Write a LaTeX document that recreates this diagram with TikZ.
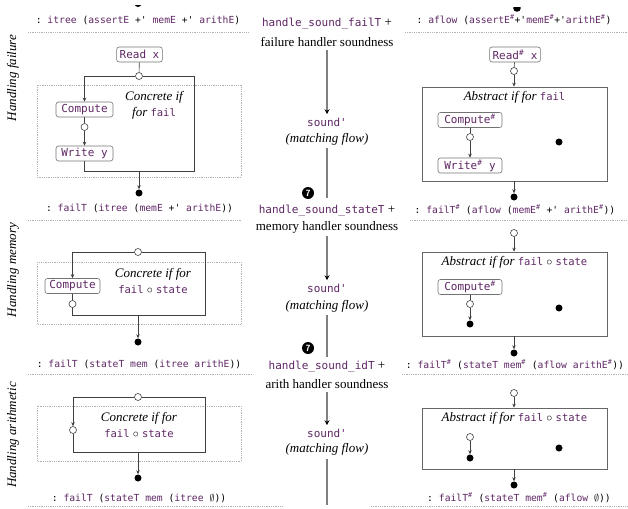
\documentclass[tikz,border=0pt]{standalone}
\usepackage{fontspec}
\setmainfont{Liberation Serif}
\setmonofont{DejaVu Sans Mono}
\usetikzlibrary{arrows.meta,positioning,calc}
\definecolor{codepurple}{RGB}{94,38,100}
\newcommand{\kw}[1]{\textcolor{codepurple}{#1}}
\newcommand{\sh}{\textsuperscript{\#}}
\newcommand{\serifsize}{\fontsize{13}{16}\selectfont}
\newcommand{\tysize}{\fontsize{9.7}{11}\ttfamily}
\newcommand{\cdsize}{\fontsize{11}{13}\ttfamily}
\newcommand{\incd}[1]{{\fontsize{10.5}{12}\ttfamily\upshape\color{codepurple}#1}}
\tikzset{
  codebox/.style={draw=black!55, rounded corners=2.5pt, line width=0.6pt, inner xsep=3pt, inner ysep=0pt, minimum height=15pt, font=\cdsize, text=codepurple},
  opendot/.style={circle, draw=black!75, fill=white, line width=0.6pt, inner sep=0pt, minimum size=7pt},
  fulldot/.style={circle, fill=black, inner sep=0pt, minimum size=7pt},
  flow/.style={draw=black!75, line width=0.6pt},
  region/.style={draw=black!30, dash pattern=on 0.6pt off 1.2pt, line width=0.6pt},
  absbox/.style={draw=black!60, line width=0.7pt},
  typeline/.style={font=\tysize},
  typerule/.style={draw=black!30, dash pattern=on 0.6pt off 1.2pt, line width=0.6pt},
  proof/.style={draw=black!50, line width=1.8pt},
  sketch/.style={font=\serifsize\itshape, align=center},
  rowlabel/.style={rotate=90, font=\serifsize\itshape},
  stepnum/.style={circle, fill=black, text=white, inner sep=0pt, minimum size=12pt, font=\sffamily\bfseries\fontsize{9}{9}\selectfont},
}

\begin{document}
\begin{tikzpicture}[x=1pt, y=-1pt, >={Stealth[length=4pt,width=3.5pt]}, font=\serifsize]
    \useasboundingbox (0,0) rectangle (628,508);

    % resti dei pallini sopra
    \begin{scope}
        \clip (120,5.5) rectangle (540,20);
        \fill (138,3.5) circle (3.5);
    \end{scope}
    \begin{scope}
        \clip (500,7.5) rectangle (540,20);
        \fill (517,8) circle (3.8);
    \end{scope}

    % etichette delle righe
    \node[rowlabel] (lab1) at (13,78) {Handling failure};
    \node[rowlabel] (lab2) at (13,270) {Handling memory};
    \node[rowlabel] (lab3) at (13,435) {Handling arithmetic};

    % ---------------- riga 1: fallimento ----------------
    \node[typeline] (t1l) at (138,20) {: \kw{itree} (\kw{assertE} +' \kw{memE} +' \kw{arithE})};
    \draw[typerule] (28,32) -- (248,32);
    \node[typeline] (t1r) at (514,20) {: \kw{aflow} (\kw{assertE\sh}+'\kw{memE\sh}+'\kw{arithE\sh})};
    \draw[typerule] (405,32) -- (628,32);

    % if concreto
    \draw[region] (37,85) rectangle (241,177);
    \node[codebox] (read1) at (139.5,54.5) {Read x};
    \node[opendot] (s1) at (139,76) {};
    \node[codebox, minimum width=57pt] (c1) at (84.5,109.5) {Compute};
    \node[opendot] (d1) at (84.5,127) {};
    \node[codebox, minimum width=57pt] (w1) at (84.5,153.5) {Write y};
    \coordinate (r1) at (194,171);
    \coordinate (b1) at (139,171);
    \node[fulldot] (o1) at (139,193) {};
    \node[sketch] (k1) at (154,105) {Concrete if\\for \incd{fail}};
    \draw[flow] (read1) -- (s1);
    \draw[flow,->] (s1.west) -| (c1.north);
    \draw[flow] (c1) -- (d1);
    \draw[flow,->] (d1) -- (w1);
    \draw[flow] (w1.south) |- (r1) |- (s1.east);
    \draw[flow,->] (b1) -- (o1);

    % passo di prova
    \node (h1) at (327,24) {\kw{\cdsize handle\_sound\_failT} +};
    \node (f1) at (327,42) {failure handler soundness};
    \node (q1) at (327,122) {\kw{\cdsize sound'}};
    \node[font=\serifsize\itshape] (m1) at (327,139) {(matching flow)};
    \coordinate (e1) at (327,198);
    \draw[proof,-{Stealth[length=5pt,width=5pt,color=black]}] (f1.south) -- (q1.north);
    \draw[proof] (m1.south) -- (e1);
    \node[stepnum] (n1) at (308,193) {7};

    % if astratto
    \node[codebox] (read1a) at (515,54.5) {Read\sh{} x};
    \node[opendot] (s1a) at (514,71) {};
    \node[absbox, minimum width=185pt, minimum height=94pt] (abs1) at (514.5,134) {};
    \node[font=\serifsize\itshape, below=1pt of abs1.north] (k1a) {Abstract if for \incd{fail}};
    \node[codebox, minimum width=64pt] (c1a) at (470,120) {Compute\sh};
    \node[opendot] (d1a) at (470,137) {};
    \node[codebox, minimum width=64pt] (w1a) at (470,165.5) {Write\sh{} y};
    \node[fulldot] (x1a) at (559,142) {};
    \node[fulldot] (o1a) at (514,197) {};
    \draw[flow] (read1a) -- (s1a);
    \draw[flow,->] (s1a) -- (s1a |- abs1.north);
    \draw[flow] (c1a) -- (d1a);
    \draw[flow,->] (d1a) -- (w1a);
    \draw[flow,->] (o1a |- abs1.south) -- (o1a);

    % ---------------- riga 2: memoria ----------------
    \node[typeline] (t2l) at (139.5,208) {: \kw{failT} (\kw{itree} (\kw{memE} +' \kw{arithE}))};
    \draw[typerule] (28,220) -- (242,220);
    \node[typeline] (t2r) at (515,210) {: \kw{failT\sh} (\kw{aflow} (\kw{memE\sh} +' \kw{arithE\sh}))};
    \draw[typerule] (410,220) -- (628,220);

    % if concreto
    \draw[region] (37,262) rectangle (241,324);
    \node[opendot] (s2) at (138,252) {};
    \node[codebox, minimum width=55pt] (c2) at (72.5,286) {Compute};
    \node[opendot] (d2) at (72.5,304) {};
    \coordinate (r2) at (205,315);
    \coordinate (b2) at (138,315);
    \node[fulldot] (o2) at (138,342) {};
    \node[sketch] (k2) at (153,281) {Concrete if for\\\incd{fail} $\circ$ \incd{state}};
    \draw[flow,->] (s2.west) -| (c2.north);
    \draw[flow] (c2) -- (d2);
    \draw[flow] (d2.south) |- (r2) |- (s2.east);
    \draw[flow,->] (b2) -- (o2);

    % passo di prova
    \node (h2) at (327,211) {\kw{\cdsize handle\_sound\_stateT} +};
    \node (f2) at (327,227) {memory handler soundness};
    \node (q2) at (327,288) {\kw{\cdsize sound'}};
    \node[font=\serifsize\itshape] (m2) at (327,306) {(matching flow)};
    \coordinate (e2) at (327,357);
    \draw[proof,-{Stealth[length=5pt,width=5pt,color=black]}] (f2.south) -- (q2.north);
    \draw[proof] (m2.south) -- (e2);
    \node[stepnum] (n2) at (308,348) {7};

    % if astratto
    \node[opendot] (s2a) at (514,233) {};
    \node[absbox, minimum width=185pt, minimum height=84pt] (abs2) at (514.5,294) {};
    \node[font=\serifsize\itshape, below=1pt of abs2.north] (k2a) {Abstract if for \incd{fail} $\circ$ \incd{state}};
    \node[codebox, minimum width=64pt] (c2a) at (470,287) {Compute\sh};
    \node[opendot] (d2a) at (470,304) {};
    \node[fulldot] (y2a) at (470,324) {};
    \node[fulldot] (x2a) at (559,308) {};
    \node[fulldot] (o2a) at (514,353) {};
    \draw[flow,->] (s2a) -- (s2a |- abs2.north);
    \draw[flow] (c2a) -- (d2a);
    \draw[flow,->] (d2a) -- (y2a);
    \draw[flow,->] (o2a |- abs2.south) -- (o2a);

    % ---------------- riga 3: aritmetica ----------------
    \node[typeline] (t3l) at (139,364) {: \kw{failT} (\kw{stateT} \kw{mem} (\kw{itree} \kw{arithE}))};
    \draw[typerule] (28,374) -- (253,374);
    \node[typeline] (t3r) at (515,365) {: \kw{failT\sh} (\kw{stateT} \kw{mem\sh} (\kw{aflow} \kw{arithE\sh}))};
    \draw[typerule] (402,374) -- (628,374);

    % if concreto
    \draw[region] (37,406) rectangle (241,461);
    \node[opendot] (s3) at (138,397) {};
    \node[opendot] (d3) at (73,430) {};
    \coordinate (r3) at (205,452);
    \coordinate (b3) at (138,452);
    \node[fulldot] (o3) at (138,478) {};
    \node[sketch] (k3) at (139,425) {Concrete if for\\\incd{fail} $\circ$ \incd{state}};
    \draw[flow,->] (s3.west) -| (d3.north);
    \draw[flow] (d3.south) |- (r3) |- (s3.east);
    \draw[flow,->] (b3) -- (o3);
    \node[typeline] (t3lb) at (139,498) {: \kw{failT} (\kw{stateT} \kw{mem} (\kw{itree} $\emptyset$))};
    \draw[typerule] (28,506) -- (282,506);

    % passo di prova
    \node (h3) at (327,367) {\kw{\cdsize handle\_sound\_idT} +};
    \node (f3) at (327,384) {arith handler soundness};
    \node (q3) at (327,433) {\kw{\cdsize sound'}};
    \node[font=\serifsize\itshape] (m3) at (327,449) {(matching flow)};
    \coordinate (e3) at (327,505);
    \draw[proof,-{Stealth[length=5pt,width=5pt,color=black]}] (f3.south) -- (q3.north);
    \draw[proof] (m3.south) -- (e3);

    % if astratto
    \node[opendot] (s3a) at (514,393) {};
    \node[absbox, minimum width=185pt, minimum height=61pt] (abs3) at (514.5,438.5) {};
    \node[font=\serifsize\itshape, below=1pt of abs3.north] (k3a) {Abstract if for \incd{fail} $\circ$ \incd{state}};
    \node[opendot] (d3a) at (470,437) {};
    \node[fulldot] (y3a) at (470,458) {};
    \node[fulldot] (x3a) at (559,448) {};
    \node[fulldot] (o3a) at (514,485) {};
    \draw[flow,->] (s3a) -- (s3a |- abs3.north);
    \draw[flow,->] (d3a) -- (y3a);
    \draw[flow,->] (o3a |- abs3.south) -- (o3a);
    \node[typeline] (t3rb) at (519,498) {: \kw{failT\sh} (\kw{stateT} \kw{mem\sh} (\kw{aflow} $\emptyset$))};
    \draw[typerule] (371,506) -- (628,506);
\end{tikzpicture}
\end{document}
